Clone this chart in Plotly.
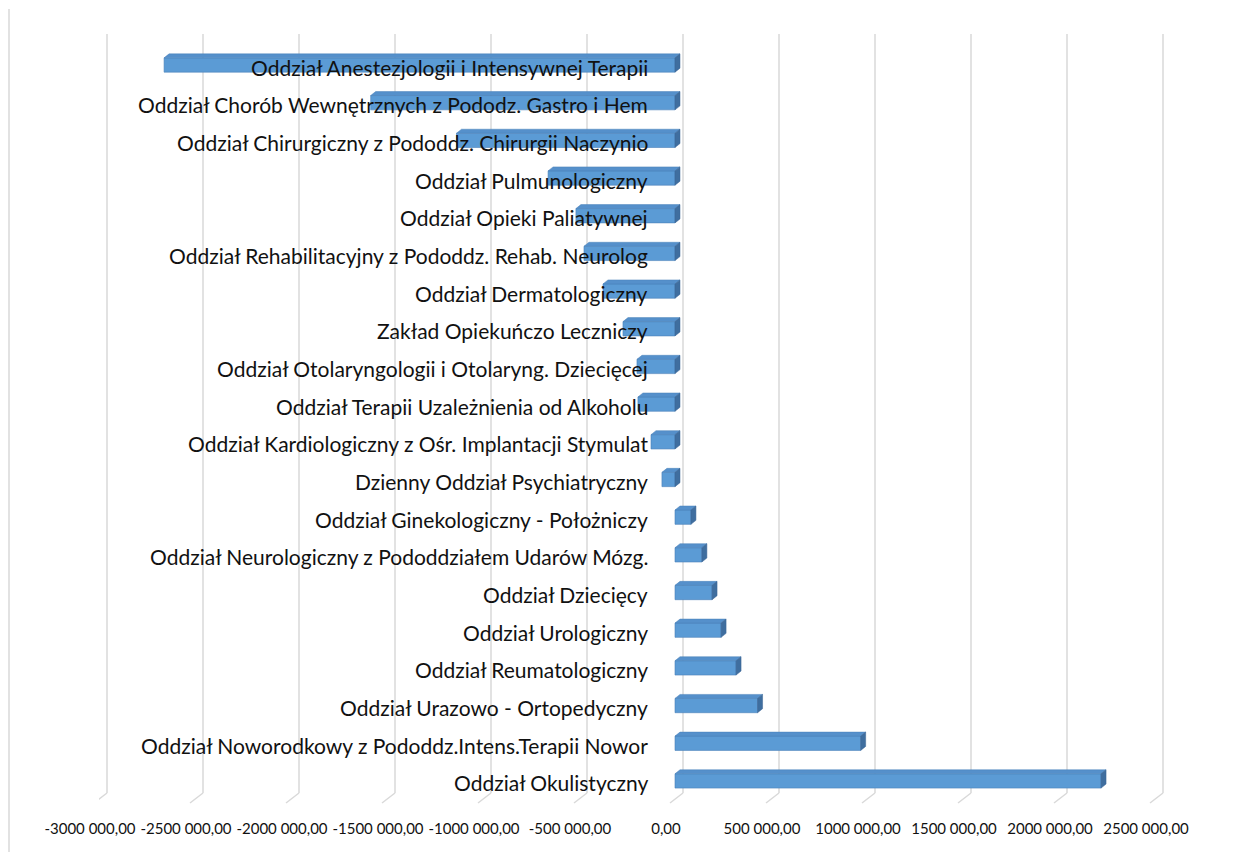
import plotly.graph_objects as go

categories = [
    "Oddział Anestezjologii i Intensywnej Terapii",
    "Oddział Chorób Wewnętrznych z Pododz. Gastro i Hem",
    "Oddział Chirurgiczny z Pododdz. Chirurgii Naczynio",
    "Oddział Pulmunologiczny",
    "Oddział Opieki Paliatywnej",
    "Oddział Rehabilitacyjny z Pododdz. Rehab. Neurolog",
    "Oddział Dermatologiczny",
    "Zakład Opiekuńczo Leczniczy",
    "Oddział Otolaryngologii i Otolaryng. Dziecięcej",
    "Oddział Terapii Uzależnienia od Alkoholu",
    "Oddział Kardiologiczny z Ośr. Implantacji Stymulat",
    "Dzienny Oddział Psychiatryczny",
    "Oddział Ginekologiczny - Położniczy",
    "Oddział Neurologiczny z Pododdziałem Udarów Mózg.",
    "Oddział Dziecięcy",
    "Oddział Urologiczny",
    "Oddział Reumatologiczny",
    "Oddział Urazowo - Ortopedyczny",
    "Oddział Noworodkowy z Pododdz.Intens.Terapii Nowor",
    "Oddział Okulistyczny",
]
values = [
    -2661000, -1585000, -1138000, -661000, -516000, -474000, -375000,
    -271000, -198000, -193000, -125000, -68000,
    83000, 140000, 193000, 240000, 318000, 430000, 967000, 2219000,
]
tick_values = [-3000000, -2500000, -2000000, -1500000, -1000000, -500000,
               0, 500000, 1000000, 1500000, 2000000, 2500000]
tick_labels = ["-3000 000,00", "-2500 000,00", "-2000 000,00", "-1500 000,00",
               "-1000 000,00", "-500 000,00", "0,00", "500 000,00",
               "1000 000,00", "1500 000,00", "2000 000,00", "2500 000,00"]

# geometry helpers (pixel -> data units)
PX_X = 500000 / 96.0          # value units per pixel on x
PX_Y = 1 / 37.68              # category units per pixel on y
BAR_W = 0.38
DX, DY = 5 * PX_X, 4 * PX_Y   # oblique depth of bars
GRID_DX = 8 * PX_X            # back wall offset
EXTRA_R = 12                  # px of room right of last tick for back wall

idx = list(range(len(categories)))

fig = go.Figure()
fig.add_trace(go.Bar(
    x=values, y=idx, orientation="h", width=BAR_W,
    marker=dict(color="#5b9bd5", line=dict(color="#4a80b8", width=0.6)),
    hoverinfo="skip", showlegend=False,
))

shapes = []
# back wall gridlines + floor diagonals
for v in tick_values:
    xb = v + GRID_DX
    shapes.append(dict(type="line", xref="x", yref="paper", x0=xb, x1=xb,
                       y0=0.00914, y1=1.0, layer="below",
                       line=dict(color="#d9d9d9", width=1.5)))
    shapes.append(dict(type="line", xref="x", yref="paper", x0=xb, x1=xb - 13 * PX_X,
                       y0=0.00914, y1=-0.0039, layer="below",
                       line=dict(color="#d9d9d9", width=1.5)))

# 3D faces of bars
for i, v in enumerate(values):
    x0, x1 = min(v, 0), max(v, 0)
    yt = i - BAR_W / 2
    yb = i + BAR_W / 2
    top = (f"M {x0},{yt} L {x1},{yt} L {x1 + DX},{yt - DY} "
           f"L {x0 + DX},{yt - DY} Z")
    shapes.append(dict(type="path", xref="x", yref="y", path=top,
                       fillcolor="#5590cb", line=dict(color="#4a80b8", width=0.5)))
    side = (f"M {x1},{yt} L {x1 + DX},{yt - DY} L {x1 + DX},{yb - DY} "
            f"L {x1},{yb} Z")
    shapes.append(dict(type="path", xref="x", yref="y", path=side,
                       fillcolor="#3f6e9f", line=dict(color="#3a6594", width=0.5)))

# chart area left border (plot width = 1056 + EXTRA_R px)
plot_w = 1056 + EXTRA_R
shapes.append(dict(type="line", xref="paper", yref="paper", x0=-90 / plot_w, x1=-90 / plot_w,
                   y0=1.0326, y1=-0.07, line=dict(color="#d9d9d9", width=1.5)))

annotations = []
for i, c in enumerate(categories):
    annotations.append(dict(x=0, y=i, xref="x", yref="y", text=c, showarrow=False,
                            xanchor="right", yanchor="middle", xshift=-25, yshift=-2,
                            font=dict(family="Lato", size=21, color="#111111")))

fig.update_layout(
    width=1242, height=844,
    margin=dict(l=91, r=95 - EXTRA_R, t=26, b=52, autoexpand=False),
    paper_bgcolor="white", plot_bgcolor="white",
    shapes=shapes, annotations=annotations,
    xaxis=dict(range=[-3000000, 2500000 + EXTRA_R * PX_X], tickvals=tick_values,
               ticktext=tick_labels,
               showgrid=False, zeroline=False, showline=False, ticks="",
               tickangle=0, automargin=False,
               ticklabelstandoff=18, ticklabelshift=-9,
               tickfont=dict(family="Lato", size=15, color="#111111")),
    yaxis=dict(range=[19.506, -0.823], showticklabels=False, showgrid=False,
               zeroline=False, showline=False, automargin=False),
)

fig.write_html("out.html")
